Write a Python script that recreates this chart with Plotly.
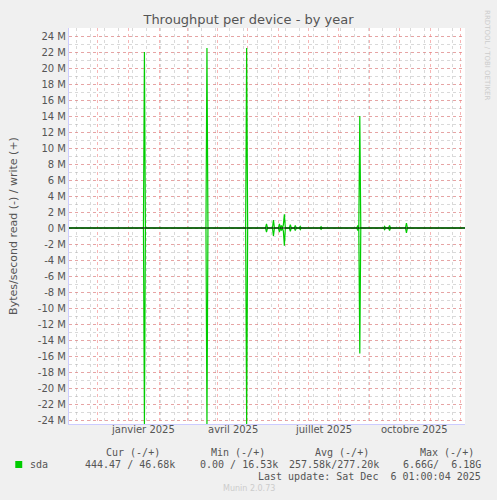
import plotly.graph_objects as go

# data (daily samples; zeros elsewhere)
dates = ["2024-11-02","2025-01-16","2025-01-17","2025-01-18","2025-03-20","2025-03-21","2025-03-22",
         "2025-04-29","2025-04-30","2025-05-01","2025-05-19","2025-05-20","2025-05-21","2025-05-26","2025-05-27","2025-05-28",
         "2025-06-01","2025-06-02","2025-06-03","2025-06-04","2025-06-05","2025-06-06","2025-06-07","2025-06-08",
         "2025-06-12","2025-06-13","2025-06-14","2025-06-17","2025-06-18","2025-06-19","2025-06-22","2025-06-23","2025-06-24",
         "2025-07-13","2025-07-14","2025-07-15","2025-08-19","2025-08-20","2025-08-21","2025-08-22","2025-08-23",
         "2025-09-15","2025-09-16","2025-09-17","2025-09-20","2025-09-21","2025-09-22","2025-10-07","2025-10-08","2025-10-09","2025-12-06"]
write = [0,0,22.0e6,0,0,22.5e6,0,0,22.5e6,0,0,0.5e6,0,0,1.0e6,0,
         0,0.5e6,0,0.3e6,0,0.4e6,1.7e6,0,0,0.4e6,0,0,0.3e6,0,0,0.2e6,0,
         0,0.15e6,0,0,0.3e6,0,14.0e6,0,0,0.2e6,0,0,0.3e6,0,0,0.6e6,0,0]
read = [0,0,-24.5e6,0,0,-24.5e6,0,0,-24.5e6,0,0,-0.5e6,0,0,-1.0e6,0,
        0,-0.5e6,0,-0.3e6,0,-0.4e6,-2.2e6,0,0,-0.4e6,0,0,-0.3e6,0,0,-0.2e6,0,
        0,-0.15e6,0,0,-0.3e6,0,-15.7e6,0,0,-0.2e6,0,0,-0.3e6,0,0,-0.6e6,0,0]
ytick_vals = [v*1e6 for v in range(-24, 25, 2)]
ytick_text = [f"{v} M" for v in range(-24, 25, 2)]
month_starts = ["2024-12-01","2025-01-01","2025-02-01","2025-03-01","2025-04-01","2025-05-01","2025-06-01",
                "2025-07-01","2025-08-01","2025-09-01","2025-10-01","2025-11-01","2025-12-01"]
label_dates = ["2025-01-16","2025-04-16","2025-07-16","2025-10-16"]
label_text = ["janvier 2025","avril 2025","juillet 2025","octobre 2025"]

W, H = 497, 500
L, R, T, B = 67, 465, 28, 424
fig = go.Figure()
fig.add_trace(go.Scatter(x=dates, y=read, mode="lines", line=dict(color="#00cc00", width=1.2), showlegend=False, hoverinfo="skip"))
fig.add_trace(go.Scatter(x=dates, y=write, mode="lines", line=dict(color="#00cc00", width=1.2), showlegend=False, hoverinfo="skip"))
fig.add_shape(type="line", xref="paper", yref="y", x0=0, x1=1, y0=0, y1=0, line=dict(color="black", width=1.2))

grid_font = dict(family="DejaVu Sans", size=10, color="#555555")
fig.update_layout(
    width=W, height=H, paper_bgcolor="#f0f0f0", plot_bgcolor="white",
    margin=dict(l=L, r=W-R, t=T, b=H-B),
    title=dict(text="Throughput per device - by year", x=0.5, xanchor="center", y=1-19/H, yanchor="middle",
               font=dict(family="DejaVu Sans", size=13, color="#555555")),
    xaxis=dict(range=["2024-11-02", "2025-12-06"], tickvals=month_starts, ticktext=[""]*len(month_starts),
               showgrid=True, gridcolor="rgba(240,120,120,0.55)", griddash="dot", gridwidth=1,
               minor=dict(dtick=14*86400000, tick0="2024-11-10", showgrid=True, gridcolor="rgba(170,170,170,0.45)", griddash="dot"),
               zeroline=False, showline=True, linecolor="#ccccff", ticks="", fixedrange=True),
    yaxis=dict(range=[-24.5e6, 25e6], tickvals=ytick_vals, ticktext=ytick_text, tickfont=grid_font,
               showgrid=True, gridcolor="rgba(240,120,120,0.55)", griddash="dot",
               minor=dict(dtick=1e6, showgrid=True, gridcolor="rgba(170,170,170,0.45)", griddash="dot"),
               zeroline=False, showline=True, linecolor="#ccccff", ticks="", fixedrange=True,
               title=dict(text="Bytes/second read (-) / write (+)", font=dict(family="DejaVu Sans", size=11, color="#555555"), standoff=18)),
)
for d, t in zip(label_dates, label_text):
    fig.add_annotation(x=d, xref="x", y=(B-437)/(B-T), yref="paper", text=t, showarrow=False, font=grid_font)

def px(xp, yp, text, anchor="left", font="DejaVu Sans Mono", size=10, color="#555555"):
    fig.add_annotation(x=(xp-L)/(R-L), y=(B-yp)/(B-T), xref="paper", yref="paper", text=text, showarrow=False,
                       xanchor=anchor, yanchor="middle", font=dict(family=font, size=size, color=color))

px(160, 452, "Cur (-/+)", "right")
px(266, 452, "Min (-/+)", "right")
px(371, 452, "Avg (-/+)", "right")
px(476, 452, "Max (-/+)", "right")
px(26, 464, "sda")
px(176, 464, "444.47 / 46.68k", "right")
px(279, 464, "0.00 / 16.53k", "right")
px(381, 464, "257.58k/277.20k", "right")
px(483, 464, "6.66G/  6.18G", "right")
px(483, 476, "Last update: Sat Dec  6 01:00:04 2025", "right")
px(248, 488, "Munin 2.0.73", "center", "DejaVu Sans", 8, "#cccccc")
fig.add_shape(type="rect", xref="paper", yref="paper", x0=(13-L)/(R-L), x1=(20-L)/(R-L),
              y0=(B-468)/(B-T), y1=(B-461)/(B-T), fillcolor="#00cc00", line=dict(width=0))
fig.add_annotation(x=(487-L)/(R-L), y=(B-8)/(B-T), xref="paper", yref="paper", text="RRDTOOL / TOBI OETIKER",
                   textangle=90, showarrow=False, xanchor="center", yanchor="top",
                   font=dict(family="DejaVu Sans", size=7, color="#cccccc"))
fig.write_html("out.html", config={"displayModeBar": False},
               post_script="document.body.style.margin='0';document.body.style.background='#f0f0f0';")
